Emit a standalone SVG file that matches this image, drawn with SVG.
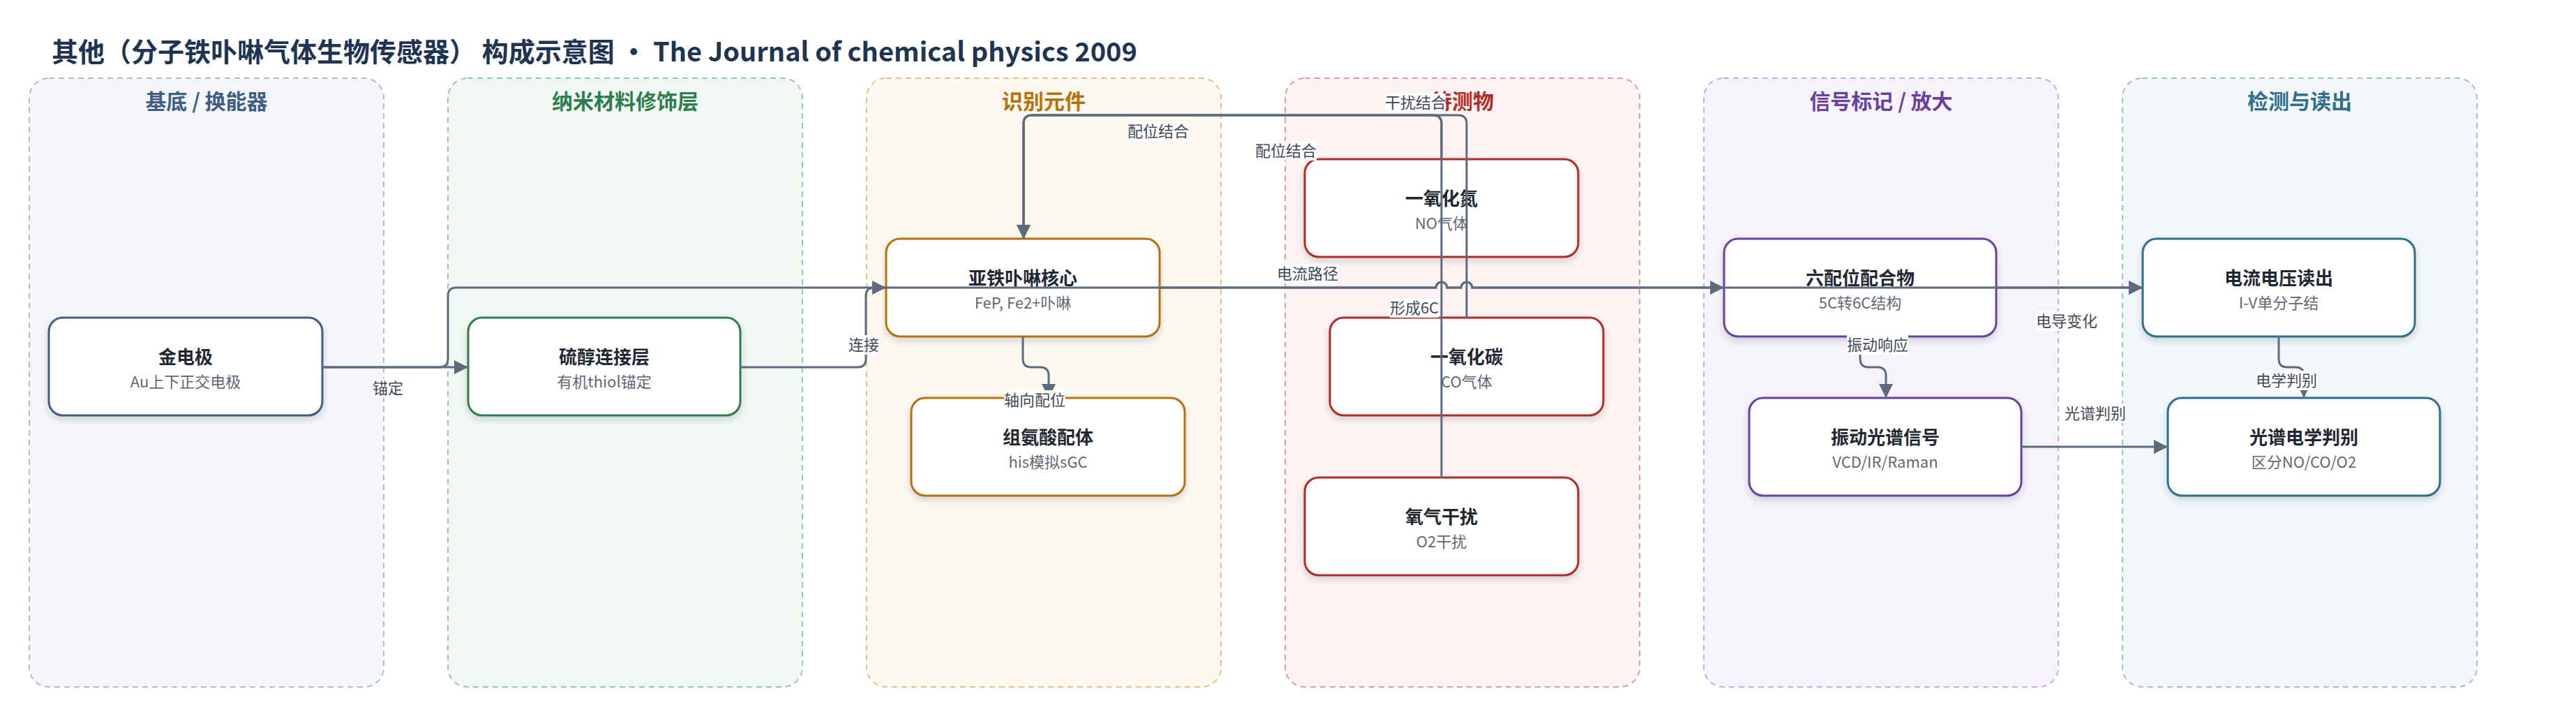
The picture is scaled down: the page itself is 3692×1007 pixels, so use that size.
<svg xmlns="http://www.w3.org/2000/svg" width="3692" height="1007" viewBox="0 0 3692 1007">
<defs>
<style>
text{font-family:"Noto Sans CJK SC","Noto Sans",sans-serif;}
.title{font-size:38px;font-weight:700;fill:#1f3452;}
.ghead{font-size:30px;font-weight:700;text-anchor:middle;}
.grp{stroke-width:2;stroke-dasharray:8 6;}
.node{fill:#ffffff;stroke-width:3;filter:url(#sh);}
.nt{font-size:26px;font-weight:700;fill:#1f2733;text-anchor:middle;}
.ns{font-size:22px;fill:#5f6876;text-anchor:middle;}
.edge{fill:none;stroke:#5c6b80;stroke-width:3;}
.arr{marker-end:url(#ah);}
.lbg{fill:#ffffff;}
.lt{font-size:22px;fill:#3f4957;text-anchor:middle;}
</style>
<filter id="sh" x="-10%" y="-15%" width="120%" height="140%">
<feDropShadow dx="0" dy="5" stdDeviation="5" flood-color="#1f2937" flood-opacity="0.16"/>
</filter>
<marker id="ah" markerUnits="userSpaceOnUse" markerWidth="20" markerHeight="20" refX="20" refY="10" orient="auto">
<path d="M0,0 L20,10 L0,20 z" fill="#5c6b80"/>
</marker>
</defs>
<rect width="3692" height="1007" fill="#ffffff"/>
<text class="title" x="74" y="88">其他（分子铁卟啉气体生物传感器） 构成示意图 · The Journal of chemical physics 2009</text>

<g id="groups">
<g id="g-substrate">
<rect class="grp" x="42" y="112" width="508" height="872" rx="28" fill="#f4f6fa" stroke="#aebbd0"/>
<text class="ghead" x="296" y="156" fill="#3f5d87">基底 / 换能器</text>
</g>
<g id="g-nano">
<rect class="grp" x="642" y="112" width="508" height="872" rx="28" fill="#f1f8f3" stroke="#98c9a7"/>
<text class="ghead" x="896" y="156" fill="#2e7d4f">纳米材料修饰层</text>
</g>
<g id="g-recog">
<rect class="grp" x="1242" y="112" width="508" height="872" rx="28" fill="#fdf8f0" stroke="#e6c08a"/>
<text class="ghead" x="1496" y="156" fill="#b8700a">识别元件</text>
</g>
<g id="g-analyte">
<rect class="grp" x="1842" y="112" width="508" height="872" rx="28" fill="#fdf3f2" stroke="#e39b98"/>
<text class="ghead" x="2096" y="156" fill="#b42b25">待测物</text>
</g>
<g id="g-signal">
<rect class="grp" x="2442" y="112" width="508" height="872" rx="28" fill="#f7f3fb" stroke="#c6ace0"/>
<text class="ghead" x="2696" y="156" fill="#6b3fa0">信号标记 / 放大</text>
</g>
<g id="g-readout">
<rect class="grp" x="3042" y="112" width="508" height="872" rx="28" fill="#f3f7f9" stroke="#9fc1cf"/>
<text class="ghead" x="3296" y="156" fill="#2f6f8c">检测与读出</text>
</g>
</g>

<g id="nodes">
<g id="n-gold"><rect class="node" x="70" y="455" width="392" height="140" rx="20" stroke="#3f5d87"/><text class="nt" x="266" y="521">金电极</text><text class="ns" x="266" y="555">Au上下正交电极</text></g>
<g id="n-thiol"><rect class="node" x="671" y="455" width="390" height="140" rx="20" stroke="#2e7d4f"/><text class="nt" x="866" y="521">硫醇连接层</text><text class="ns" x="866" y="555">有机thiol锚定</text></g>
<g id="n-fep"><rect class="node" x="1270" y="342" width="392" height="140" rx="20" stroke="#b8700a"/><text class="nt" x="1466" y="408">亚铁卟啉核心</text><text class="ns" x="1466" y="442">FeP, Fe2+卟啉</text></g>
<g id="n-his"><rect class="node" x="1306" y="570" width="392" height="140" rx="20" stroke="#b8700a"/><text class="nt" x="1502" y="636">组氨酸配体</text><text class="ns" x="1502" y="670">his模拟sGC</text></g>
<g id="n-no"><rect class="node" x="1870" y="228" width="392" height="140" rx="20" stroke="#b42b25"/><text class="nt" x="2066" y="294">一氧化氮</text><text class="ns" x="2066" y="328">NO气体</text></g>
<g id="n-co"><rect class="node" x="1906" y="455" width="392" height="140" rx="20" stroke="#b42b25"/><text class="nt" x="2102" y="521">一氧化碳</text><text class="ns" x="2102" y="555">CO气体</text></g>
<g id="n-o2"><rect class="node" x="1870" y="684" width="392" height="140" rx="20" stroke="#b42b25"/><text class="nt" x="2066" y="750">氧气干扰</text><text class="ns" x="2066" y="784">O2干扰</text></g>
<g id="n-hex"><rect class="node" x="2471" y="342" width="390" height="140" rx="20" stroke="#6b3fa0"/><text class="nt" x="2666" y="408">六配位配合物</text><text class="ns" x="2666" y="442">5C转6C结构</text></g>
<g id="n-vib"><rect class="node" x="2507" y="570" width="390" height="140" rx="20" stroke="#6b3fa0"/><text class="nt" x="2702" y="636">振动光谱信号</text><text class="ns" x="2702" y="670">VCD/IR/Raman</text></g>
<g id="n-iv"><rect class="node" x="3071" y="342" width="390" height="140" rx="20" stroke="#2f6f8c"/><text class="nt" x="3266" y="408">电流电压读出</text><text class="ns" x="3266" y="442">I-V单分子结</text></g>
<g id="n-spec"><rect class="node" x="3107" y="570" width="390" height="140" rx="20" stroke="#2f6f8c"/><text class="nt" x="3302" y="636">光谱电学判别</text><text class="ns" x="3302" y="670">区分NO/CO/O2</text></g>
</g>

<g id="connectors">
<path class="edge arr" d="M462,526 H671"/>
<path class="edge arr" d="M462,526 H630 Q642,526 642,514 V424 Q642,412 654,412 H2058 A8,8 0 0 1 2074,412 H2094 A8,8 0 0 1 2110,412 H3071"/>
<path class="edge arr" d="M1061,526 H1229 Q1241,526 1241,514 V424 Q1241,412 1253,412 H1270"/>
<path class="edge arr" d="M1466,482 V514 Q1466,526 1478,526 H1491 Q1503,526 1503,538 V570"/>
<path class="edge arr" d="M1662,412 H2058 A8,8 0 0 1 2074,412 H2094 A8,8 0 0 1 2110,412 H2471"/>
<path class="edge arr" d="M2066,228 V177 Q2066,165 2054,165 H1479 Q1467,165 1467,177 V342"/>
<path class="edge arr" d="M2102,455 V177 Q2102,165 2090,165 H1479 Q1467,165 1467,177 V342"/>
<path class="edge arr" d="M2066,684 V177 Q2066,165 2054,165 H1479 Q1467,165 1467,177 V342"/>
<path class="edge arr" d="M2861,412 H3071"/>
<path class="edge arr" d="M2666,482 V514 Q2666,526 2678,526 H2691 Q2703,526 2703,538 V570"/>
<path class="edge arr" d="M3266,482 V514 Q3266,526 3278,526 H3290 Q3302,526 3302,538 V570"/>
<path class="edge arr" d="M2897,640 H3107"/>
</g>

<g id="edge-labels">
<rect class="lbg" x="534" y="542" width="44" height="28"/><text class="lt" x="556" y="564">锚定</text>
<rect class="lbg" x="1216" y="480" width="44" height="28"/><text class="lt" x="1238" y="502">连接</text>
<rect class="lbg" x="1830" y="378" width="88" height="28"/><text class="lt" x="1874" y="400">电流路径</text>
<rect class="lbg" x="1616" y="174" width="88" height="28"/><text class="lt" x="1660" y="196">配位结合</text>
<rect class="lbg" x="1799" y="202" width="88" height="28"/><text class="lt" x="1843" y="224">配位结合</text>
<rect class="lbg" x="1986" y="134" width="86" height="26"/><text class="lt" x="2029" y="155">干扰结合</text>
<rect class="lbg" x="1439" y="559" width="88" height="28"/><text class="lt" x="1483" y="581">轴向配位</text>
<rect class="lbg" x="1992" y="428" width="70" height="27"/><text class="lt" x="2027" y="449">形成6C</text>
<rect class="lbg" x="2918" y="446" width="88" height="28"/><text class="lt" x="2962" y="468">电导变化</text>
<rect class="lbg" x="2647" y="480" width="88" height="28"/><text class="lt" x="2691" y="502">振动响应</text>
<rect class="lbg" x="3233" y="531" width="88" height="28"/><text class="lt" x="3277" y="553">电学判别</text>
<rect class="lbg" x="2959" y="578" width="88" height="28"/><text class="lt" x="3003" y="600">光谱判别</text>
</g>
</svg>
